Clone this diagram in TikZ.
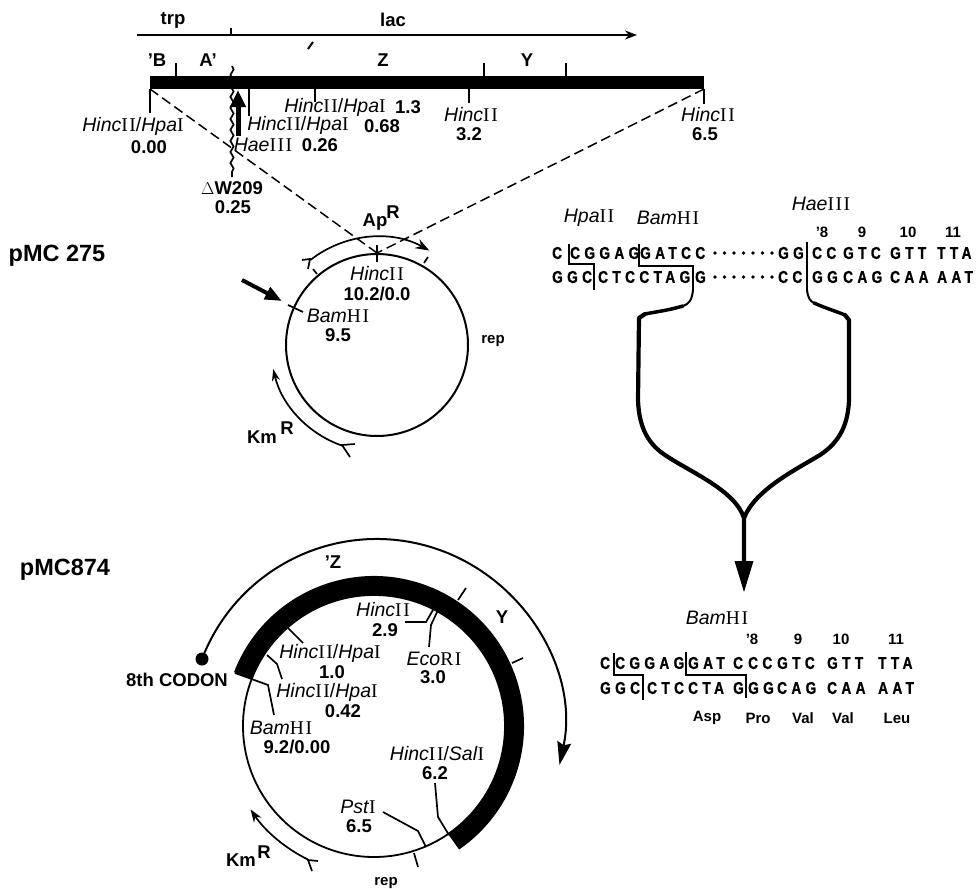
\documentclass[tikz,border=0pt]{standalone}
\usepackage{fontspec}
\setmainfont{Liberation Sans}
\newfontfamily\seqfont[FakeStretch=0.8,LetterSpace=26,FakeBold=1.2]{Liberation Sans Bold}
\newfontfamily\numfont{Liberation Serif}
\usetikzlibrary{arrows.meta,decorations.pathmorphing}
% site name: italic part, then the roman numeral in a serif
\newcommand{\site}[2]{\textit{#1}{\numfont\addfontfeature{LetterSpace=8}#2}}
\begin{document}
\begin{tikzpicture}[
    x=1pt, y=1pt,
    lab/.style={inner sep=0pt, font=\fontsize{18.5}{20}\selectfont\bfseries},
    sitelab/.style={inner sep=0pt, font=\fontsize{19.5}{21}\selectfont},
    small/.style={inner sep=0pt, font=\fontsize{15}{17}\selectfont\bfseries},
    big/.style={inner sep=0pt, font=\fontsize{23.5}{25}\selectfont\bfseries},
    seq/.style={inner sep=0pt, anchor=west, font=\fontsize{17}{19}\seqfont},
    thin/.style={line width=1.7pt},
    funnel/.style={line width=4.2pt, line cap=round, line join=round},
    hairline/.style={line width=1.2pt}
]
\useasboundingbox (0,0) rectangle (978,-889);

% Lac map
\draw[thin, -{Stealth[length=12pt,width=9pt]}] (137,-35) -- (637,-35);
\draw[thin] (231,-28) -- (231,-35);
\node[lab] (trp) at (173,-20) {trp};
\node[lab] (lac) at (393,-20) {lac};
\draw[line width=2pt] (308,-49) -- (313,-42);
\node[lab] (bgene) at (157,-60) {'B};
\node[lab] (agene) at (208,-60) {A'};
\node[lab] (zgene) at (383,-60) {Z};
\node[lab] (ygene) at (527,-60) {Y};
\fill (150,-75.5) rectangle (704,-89);
\foreach \x in {176,484,566} \draw[thin] (\x,-63) -- (\x,-76);
\foreach \x/\y in {150/113,249/116,315/102,469/103,704/104} \draw[thin] (\x,-89) -- (\x,-\y);
\draw[line width=1.7pt, decorate, decoration={snake,amplitude=1.6pt,segment length=11pt}] (232,-66) -- (232,-177);
\draw[line width=5pt, -{Stealth[length=17pt,width=15pt,inset=0pt]}] (238,-136) -- (238,-90);

\node[sitelab] (hp0) at (133,-126) {\site{Hinc}{II}/\site{Hpa}{I}};
\node[lab] (hp0v) at (149,-147) {0.00};
\node[sitelab] (hp13) at (335,-107) {\site{Hinc}{II}/\site{Hpa}{I}};
\node[lab] (hp13v) at (408,-107) {1.3};
\node[sitelab] (hp68) at (298,-125) {\site{Hinc}{II}/\site{Hpa}{I}};
\node[lab] (hp68v) at (382,-126) {0.68};
\node[sitelab] (hae) at (263,-145) {\site{Hae}{III}};
\node[lab] (haev) at (320,-145) {0.26};
\node[sitelab] (h32) at (471,-115) {\site{Hinc}{II}};
\node[lab] (h32v) at (469,-134) {3.2};
\node[sitelab] (h65) at (708,-115) {\site{Hinc}{II}};
\node[lab] (h65v) at (705,-134) {6.5};
\node[lab] (dw) at (232,-188) {$\Delta$W209};
\node[lab] (dwv) at (233,-207) {0.25};

% pMC 275
\node[big] (pmca) at (57,-256) {pMC 275};
\coordinate (ca) at (377,-345);
\draw[line width=2pt] (ca) circle (91);
\coordinate (catop) at (377,-253);
\draw[dashed, dash pattern=on 10pt off 5pt, line width=1.5pt] (150,-89) -- (catop);
\draw[dashed, dash pattern=on 10pt off 5pt, line width=1.5pt] (704,-89) -- (catop);
\draw[thin] (377,-245) -- (377,-262);
\draw[thin] (313,-269) -- (317,-274);
\draw[thin] (424,-263) -- (428,-257);
\draw[thin] (288,-305) -- (303,-312);
\draw[line width=4pt, -{Stealth[length=17pt,width=13pt,inset=0pt]}] (242,-280) -- (282,-301);
\draw[thin, -{Stealth[length=14pt,width=10pt]}] (ca) ++(128:108) arc (128:61:108);
\draw[thin] (302,-260) -- (310,-259) -- (308,-269);
\draw[thin, -{Stealth[length=12pt,width=8pt]}] (ca) ++(251:106.5) arc (251:193:106.5);
\draw[thin] (355,-444) -- (342,-445) -- (350,-457);
\node[lab] (ap) at (375,-222) {Ap};
\node[lab] (apr) at (393,-212) {R};
\node[lab] (km) at (262,-437) {Km};
\node[lab] (kmr) at (287,-428) {R};
\node[small] (repa) at (493,-341) {rep};
\node[sitelab] (hca) at (377,-274) {\site{Hinc}{II}};
\node[lab] (hcav) at (377,-294) {10.2/0.0};
\node[sitelab] (bma) at (338,-316) {\site{Bam}{HI}};
\node[lab] (bmav) at (338,-335) {9.5};

% Sequence before fusion
\node[sitelab] (hpa) at (589,-218) {\site{Hpa}{II}};
\node[sitelab] (bmb) at (668,-218) {\site{Bam}{HI}};
\node[sitelab] (haeb) at (821,-204) {\site{Hae}{III}};
\foreach \x/\t/\n in {822/'8/a,862/9/b,908/10/c,953/11/d} \node[small] (cod\n) at (\x,-232) {\t};
\foreach \x/\t/\n in {552/C/a,570/CGGAG/b,640/GATCC/c,778/GG/d,812/CC/e,843/GTC/f,890/GTT/g,937/TTA/h}
    \node[seq] (upa\n) at (\x,-253) {\t};
\foreach \x/\t/\n in {552/GGC/a,598/CTCCTAG/b,695/G/c,778/CC/d,812/GG/e,843/CAG/f,890/CAA/g,937/AAT/h}
    \node[seq] (upb\n) at (\x,-277) {\t};
\foreach \y in {253,277} \foreach \x in {715,724.5,734,743.5,753,762.5,772} \fill (\x,-\y) circle (1.8);
\draw[hairline] (569,-244) -- (569,-264) -- (594,-264) -- (594,-290);
\draw[hairline] (639,-244) -- (639,-266) -- (693,-266) -- (693,-290);
\draw[hairline] (807,-242) -- (807,-290);

% Fusion funnel
\draw[line width=2pt] (693,-290) .. controls (692,-300) and (689,-304) .. (683,-306);
\draw[line width=2pt] (807,-290) .. controls (808,-298) and (810,-301) .. (814,-303);
\draw[line width=3.5pt, line cap=round] (683,-306) .. controls (670,-310) and (655,-312) .. (645,-314);
\draw[line width=3.5pt, line cap=round] (814,-303) .. controls (825,-308) and (838,-312) .. (845,-315);
\draw[funnel] (645,-314) -- (639,-318) -- (638,-400) .. controls (639,-430) and (650,-445) .. (665,-455)
    .. controls (690,-472) and (735,-490) .. (744,-518) -- (744,-565);
\draw[funnel] (845,-315) -- (849,-320) -- (849,-400) .. controls (848,-430) and (835,-445) .. (820,-455)
    .. controls (795,-470) and (755,-490) .. (744,-518);
\fill (734.5,-561) -- (753.5,-561) -- (744,-592) -- cycle;

% Sequence after fusion
\node[sitelab] (bmc) at (717,-618) {\site{Bam}{HI}};
\foreach \x/\t/\n in {752/'8/a,798/9/b,841/10/c,896/11/d} \node[small] (cof\n) at (\x,-639) {\t};
\foreach \x/\t/\n in {600/C/a,615/CGGAG/b,688/GAT/c,733/C/d,748/CC/e,777/GTC/f,827/GTT/g,878/TTA/h}
    \node[seq] (fua\n) at (\x,-663) {\t};
\foreach \x/\t/\n in {600/GGC/a,647/CTC/b,688/CTA/c,733/G/d,748/GG/e,777/CAG/f,827/CAA/g,878/AAT/h}
    \node[seq] (fub\n) at (\x,-688) {\t};
\draw[hairline] (614,-653) -- (614,-675) -- (643,-675) -- (643,-700);
\draw[hairline] (686,-652) -- (686,-675) -- (746,-675) -- (746,-698);
\foreach \x/\t/\n in {707/Asp/a,758/Pro/b,803/Val/c,843/Val/d,897/Leu/e} \node[small] (aa\n) at (\x,-718) {\t};

% pMC874
\node[big] (pmcb) at (65,-570) {pMC874};
\coordinate (cb) at (374,-726);
\draw[line width=1.8pt] (cb) circle (131);
\draw[line width=19pt] (cb) ++(159:140.5) arc (159:-55.5:140.5);
\node[circle, fill, inner sep=0pt, minimum size=13pt] (dot) at (202,-659) {};
\draw[line width=2pt, -{Stealth[length=23pt,width=14pt,inset=3pt]}] (dot.center) arc (159:-12:187);
\draw[thin, -{Stealth[length=13pt,width=9pt]}] (cb) ++(244:149) arc (244:214:149);
\draw[thin] (318,-861) -- (308,-860) -- (312,-871);
\draw[thin] (458,-600) -- (466,-588);
\draw[thin] (512,-663) -- (523,-658);
\draw[thin] (288,-628) -- (303,-643);
\draw[thin] (267,-655) -- (277,-664) -- (282,-679);
\draw[thin] (235,-673) -- (268,-685) -- (274,-715);
\draw[thin] (405,-622) -- (426,-622) -- (433,-610);
\draw[thin] (429,-647) -- (431,-625) -- (438,-610);
\draw[thin] (435,-783) -- (438,-817) -- (449,-835);
\draw[thin] (383,-812) -- (418,-831) -- (426,-847);
\draw[thin] (414,-853) -- (418,-867);
\node[lab] (zlab) at (333,-562) {'Z};
\node[lab] (ylab) at (502,-617) {Y};
\node[lab] (codon) at (177,-680) {8th CODON};
\node[sitelab] (hb1) at (330,-653) {\site{Hinc}{II}/\site{Hpa}{I}};
\node[lab] (hb1v) at (332,-672) {1.0};
\node[sitelab] (hb2) at (327,-692) {\site{Hinc}{II}/\site{Hpa}{I}};
\node[lab] (hb2v) at (343,-711) {0.42};
\node[sitelab] (bmd) at (281,-728) {\site{Bam}{HI}};
\node[lab] (bmdv) at (297,-747) {9.2/0.00};
\node[sitelab] (hb3) at (383,-610) {\site{Hinc}{II}};
\node[lab] (hb3v) at (385,-630) {2.9};
\node[sitelab] (eco) at (434,-659) {\site{Eco}{RI}};
\node[lab] (ecov) at (433,-677.5) {3.0};
\node[sitelab] (hb4) at (437,-754) {\site{Hinc}{II}/\site{Sal}{I}};
\node[lab] (hb4v) at (435,-773) {6.2};
\node[sitelab] (pst) at (358,-807) {\site{Pst}{I}};
\node[lab] (pstv) at (359,-826) {6.5};
\node[lab] (kmb) at (241,-860) {Km};
\node[lab] (kmbr) at (264,-852) {R};
\node[small] (repb) at (386,-883) {rep};
\end{tikzpicture}
\end{document}
